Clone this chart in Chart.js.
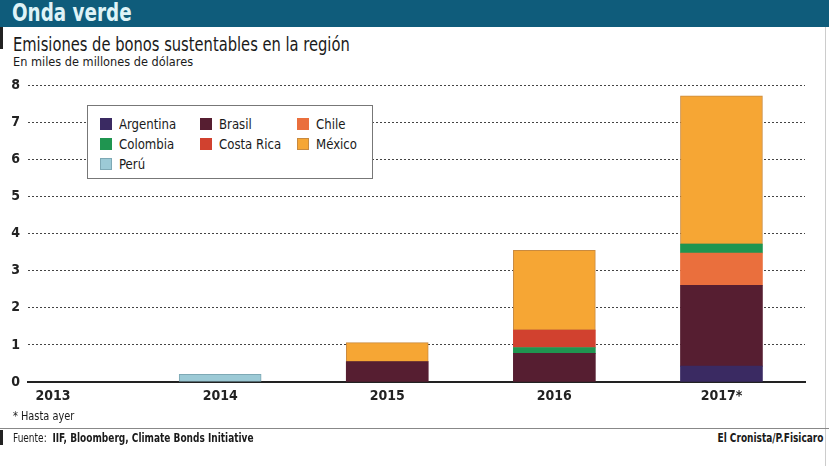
<!DOCTYPE html>
<html>
<head>
<meta charset="utf-8">
<script src="https://cdn.jsdelivr.net/npm/chart.js@4/dist/chart.umd.min.js"></script>
<style>
  html, body { margin: 0; padding: 0; background: #fff; }
  body { width: 829px; height: 466px; position: relative; overflow: hidden;
         font-family: "Liberation Sans Narrow", "DejaVu Sans Condensed", "Roboto", sans-serif; color: #1a1a1a; }
  .sx { transform-origin: left top; white-space: nowrap; }
  #header { position: absolute; left: 0; top: 0; width: 829px; height: 27px; background: #0f5c7b; }
  #title { position: absolute; left: 12px; top: -1px; font-size: 24px; font-weight: bold; color: #dff3f7; transform: scaleX(0.85); }
  #leftbar { position: absolute; left: 0; top: 27px; width: 3px; height: 22px; background: #222; }
  #rightline { position: absolute; left: 825px; top: 27px; width: 1px; height: 439px; background: #ccc; }
  #subtitle { position: absolute; left: 13px; top: 33px; font-size: 19px; transform: scaleX(0.86); }
  #units { position: absolute; left: 13px; top: 54px; font-size: 13px; transform: scaleX(0.97); }
  #wrap { position: absolute; left: 0; top: 69px; width: 829px; height: 341px; }
  #legend { position: absolute; left: 87px; top: 105px; width: 284px; height: 72px;
            background: #fff; border: 1.5px solid #777; padding: 0; }
  .item { position: absolute; font-size: 14.5px; line-height: 16px; white-space: nowrap; }
  .item span.sw { display: inline-block; width: 12px; height: 12px; margin-right: 7px;
                  vertical-align: -1px; box-sizing: border-box; }
  .item span.tx { display: inline-block; transform: scaleX(0.9); transform-origin: left center; }
  #note { position: absolute; left: 13px; top: 408px; font-size: 12.5px; transform: scaleX(0.87); }
  #footline { position: absolute; left: 0; top: 428px; width: 829px; height: 1px; background: #888; }
  #footbar { position: absolute; left: 0; top: 430px; width: 3px; height: 15px; background: #222; }
  #source { position: absolute; left: 13px; top: 430px; font-size: 12.5px; transform: scaleX(0.8); }
  #credit { position: absolute; right: 6px; top: 430px; font-size: 12.5px; font-weight: bold;
            transform: scaleX(0.8); transform-origin: right top; }
</style>
</head>
<body>
<div id="header"><div id="title" class="sx">Onda verde</div></div>
<div id="leftbar"></div>
<div id="rightline"></div>
<div id="subtitle" class="sx">Emisiones de bonos sustentables en la región</div>
<div id="units" class="sx">En miles de millones de dólares</div>
<div id="wrap"><canvas id="chart"></canvas></div>
<div id="legend"></div>
<div id="note" class="sx">* Hasta ayer</div>
<div id="footline"></div>
<div id="footbar"></div>
<div id="source" class="sx">Fuente:&nbsp; <b>IIF, Bloomberg, Climate Bonds Initiative</b></div>
<div id="credit">El Cronista/P.Fisicaro</div>

<script>
'use strict';

// ---- Data (miles de millones de USD) ----
var years = [2013, 2014, 2015, 2016, 2017];
var tickLabels = ['2013', '2014', '2015', '2016', '2017*'];

var argentina = [null, null, null, null, 0.43];
var brasil    = [null, null, 0.55, 0.77, 2.18];
var chile     = [null, null, null, null, 0.87];
var colombia  = [null, null, null, 0.16, 0.24];
var costaRica = [null, null, null, 0.47, null];
var mexico    = [null, null, 0.51, 2.15, 4.00];
var peru      = [null, 0.21, null, null, null];

var yTicks = [0, 1, 2, 3, 4, 5, 6, 7, 8];

var FONT = '"Liberation Sans Narrow", "DejaVu Sans Condensed", Roboto, sans-serif';

function series(label, data, color, border) {
  return {
    label: label,
    data: data,
    backgroundColor: color,
    borderColor: border || color,
    borderWidth: border ? 1 : 0,
    barThickness: 82,
    borderSkipped: false,
  };
}

var datasets = [
  series('Argentina', argentina, '#3a2a62'),
  series('Brasil', brasil, '#561e31'),
  series('Chile', chile, '#ea6f3d'),
  series('Colombia', colombia, '#1f9550'),
  series('Costa Rica', costaRica, '#d1412f'),
  series('México', mexico, '#f6a634', '#c98a3f'),
  series('Perú', peru, '#9ccad6', '#7ea9b5'),
];

// legend cells: column/row like the reference
var legendCols = [12, 112, 209];
var legendRows = [10, 30, 50];

var chart = new Chart(document.getElementById('chart'), {
  type: 'bar',
  data: { labels: years, datasets: datasets },
  options: {
    responsive: true,
    maintainAspectRatio: false,
    animation: false,
    layout: { padding: { top: 0, right: 24, left: 0, bottom: 0 } },
    plugins: { legend: { display: false }, tooltip: { enabled: false } },
    scales: {
      x: {
        type: 'linear',
        offset: false,
        stacked: true,
        min: 2012.85,
        max: 2017.5,
        grid: { display: false, drawTicks: false },
        border: { display: true, color: '#222', width: 2 },
        afterFit: function(s) { s.height = 28; },
        ticks: {
          stepSize: 1,
          includeBounds: false,
          autoSkip: false,
          maxRotation: 0,
          padding: 6,
          color: '#222',
          font: { family: FONT, size: 14, weight: 'bold' },
          callback: function(v) {
            var i = years.indexOf(v);
            return i >= 0 ? tickLabels[i] : '';
          },
        },
      },
      y: {
        stacked: true,
        min: 0,
        max: 8,
        afterFit: function(s) { s.width = 28; },
        afterBuildTicks: function(s) {
          s.ticks = yTicks.map(function(v) { return { value: v }; });
        },
        border: { display: false, dash: [2, 2] },
        grid: { color: '#444', lineWidth: 1, drawTicks: false },
        ticks: {
          padding: 8,
          align: 'center',
          color: '#222',
          font: { family: FONT, size: 14, weight: 'bold' },
        },
      },
    },
  },
});

// HTML legend built from the datasets
var legend = document.getElementById('legend');
legend.innerHTML = chart.data.datasets.map(function(ds, i) {
  var col = i % 3, row = Math.floor(i / 3);
  return '<div class="item" style="left:' + legendCols[col] + 'px;top:' + legendRows[row] + 'px">' +
    '<span class="sw" style="background:' + ds.backgroundColor + ';border:1px solid ' + ds.borderColor + '"></span>' +
    '<span class="tx">' + ds.label + '</span></div>';
}).join('');
</script>
</body>
</html>
